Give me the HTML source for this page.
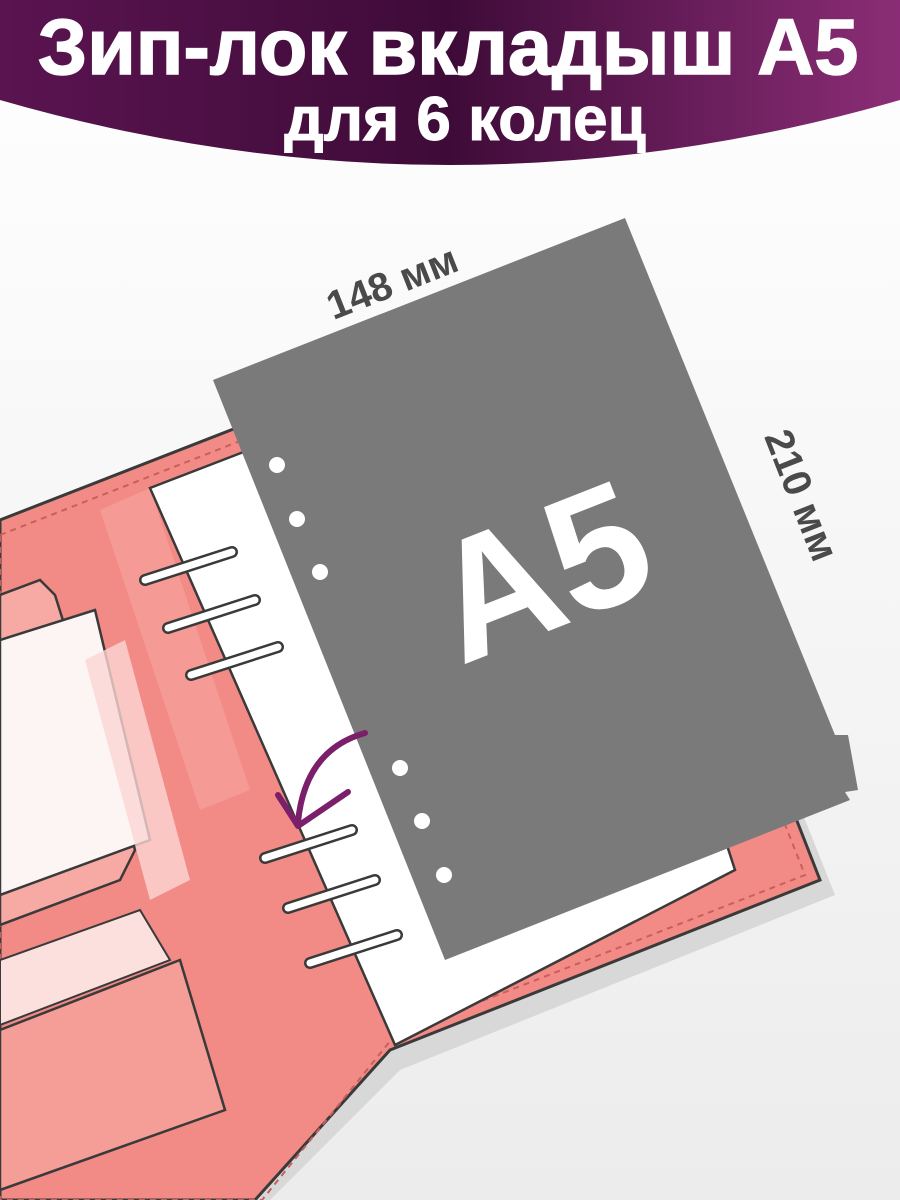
<!DOCTYPE html>
<html><head><meta charset="utf-8"><style>
html,body{margin:0;padding:0;background:#f3f3f3;}
svg{display:block}
</style></head><body>
<svg width="900" height="1200" viewBox="0 0 900 1200" xmlns="http://www.w3.org/2000/svg">
<defs>
<linearGradient id="hg" x1="0" y1="0" x2="1" y2="0">
<stop offset="0" stop-color="#5a1450"/><stop offset="0.5" stop-color="#3e0b38"/><stop offset="1" stop-color="#8b2d76"/>
</linearGradient>
<linearGradient id="bg" x1="0" y1="0" x2="0" y2="1">
<stop offset="0" stop-color="#ffffff"/><stop offset="1" stop-color="#ececec"/>
</linearGradient>
</defs>
<rect width="900" height="1200" fill="url(#bg)"/>
<polygon points="0,540 600,305 835,895 400,1070 270,1200 0,1200" fill="#d8d8d8"/>
<polygon points="0,520 590,290 820,880 390,1050 255,1200 0,1200" fill="#f28b85" stroke="#3a3a3a" stroke-width="3"/>
<polygon points="0,535 580,308 805,875 395,1035 262,1200 0,1200" fill="none" stroke="#c95f5b" stroke-width="2" stroke-dasharray="6 5"/>
<polygon points="0,595 40,580 55,595 135,850 120,880 0,925" fill="#f7a9a3" stroke="#3a3a3a" stroke-width="2.5"/>
<polygon points="0,640 95,610 150,840 0,895" fill="#fdf4f4" stroke="#3a3a3a" stroke-width="2.5"/>
<polygon points="85,660 125,640 190,880 150,900" fill="#fbd6d3" opacity="0.8"/>
<polygon points="0,960 140,910 170,960 0,1025" fill="#fbe0de" stroke="#3a3a3a" stroke-width="2"/>
<polygon points="0,1030 180,960 225,1110 0,1190" fill="#f59e98" stroke="#3a3a3a" stroke-width="2.5"/>
<polygon points="100,510 150,488 250,790 200,810" fill="#f59a94"/>
<polygon points="150,488 560,330 735,870 395,1045" fill="#ffffff" stroke="#3a3a3a" stroke-width="2.5"/>
<polygon points="213,380 625,218 835,735 848,735 858,790 845,792 850,800 445,960" fill="#7a7a7a"/>
<g fill="#ffffff">
<circle cx="277" cy="465" r="8"/><circle cx="297" cy="519" r="8"/><circle cx="320" cy="572" r="8"/>
<circle cx="400" cy="768" r="8"/><circle cx="422" cy="821" r="8"/><circle cx="444" cy="875" r="8"/>
</g>
<g fill="none" stroke="#3a3a3a" stroke-width="12" stroke-linecap="round">
<path d="M145,580 L232,552"/><path d="M168,628 L255,600"/><path d="M191,675 L278,647"/>
<path d="M265,858 L352,830"/><path d="M288,908 L375,880"/><path d="M310,963 L397,935"/>
</g>
<g fill="none" stroke="#ffffff" stroke-width="7" stroke-linecap="round">
<path d="M145,580 L232,552"/><path d="M168,628 L255,600"/><path d="M191,675 L278,647"/>
<path d="M265,858 L352,830"/><path d="M288,908 L375,880"/><path d="M310,963 L397,935"/>
</g>
<path d="M365,733 Q305,750 298,822" fill="none" stroke="#7b1f6a" stroke-width="6" stroke-linecap="round"/>
<path d="M278,795 L298,826 L348,792" fill="none" stroke="#7b1f6a" stroke-width="6" stroke-linecap="round" stroke-linejoin="round"/>
<text transform="translate(540,570) rotate(-21.5)" text-anchor="middle" font-family="Liberation Sans, sans-serif" font-weight="bold" font-size="170" fill="#ffffff" dy="60">A5</text>
<text transform="translate(392,282) rotate(-21.5)" text-anchor="middle" font-family="Liberation Sans, sans-serif" font-weight="bold" font-size="40" fill="#4a4a4a" dy="14">148 мм</text>
<text transform="translate(802,495) rotate(68.5)" text-anchor="middle" font-family="Liberation Sans, sans-serif" font-weight="bold" font-size="40" fill="#4a4a4a" dy="14">210 мм</text>
<path d="M0,0 H900 V100 Q450,230 0,100 Z" fill="url(#hg)"/>
<text x="448" y="74" text-anchor="middle" font-family="Liberation Sans, sans-serif" font-weight="bold" font-size="79" fill="#ffffff" stroke="#ffffff" stroke-width="1.5">Зип-лок вкладыш А5</text>
<text x="465" y="140" text-anchor="middle" font-family="Liberation Sans, sans-serif" font-weight="bold" font-size="62" fill="#ffffff" stroke="#ffffff" stroke-width="1">для 6 колец</text>
</svg>
</body></html>
